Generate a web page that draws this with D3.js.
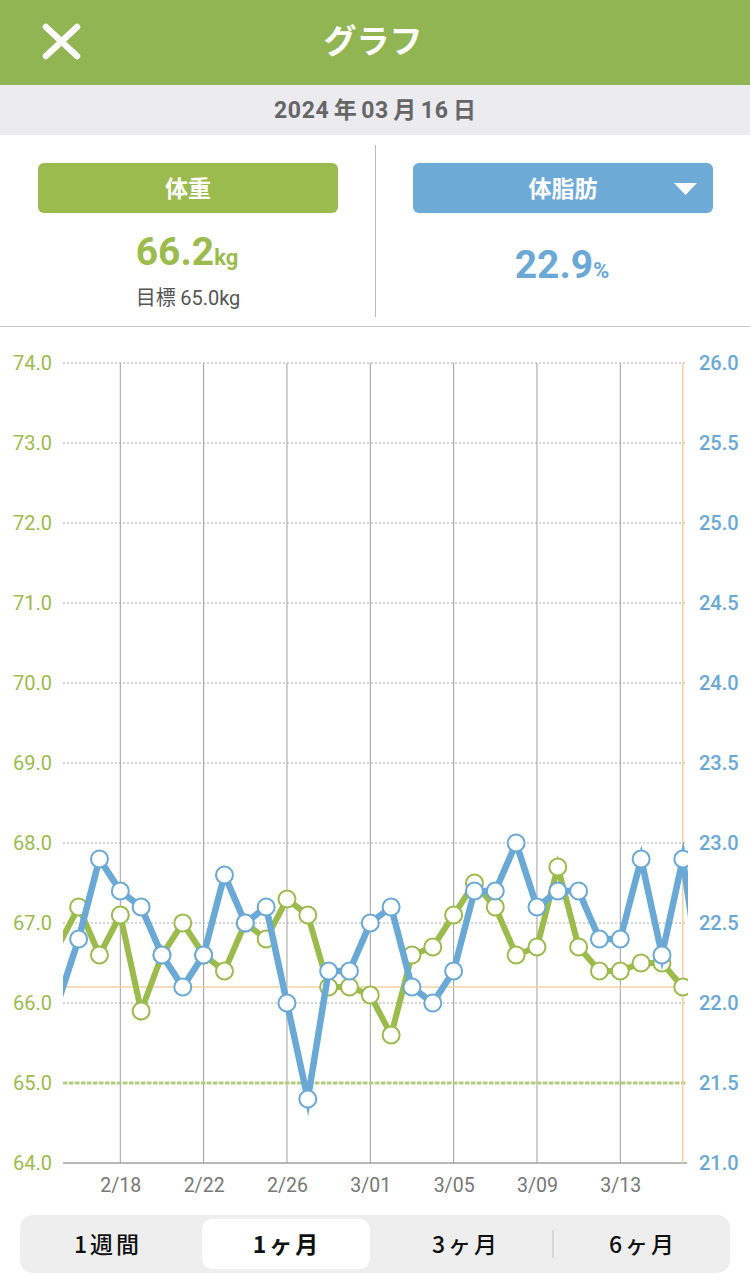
<!DOCTYPE html>
<html><head><meta charset="utf-8">
<script src="https://cdn.jsdelivr.net/npm/d3@7"></script>
<style>
html,body{margin:0;padding:0;background:#fff;}
svg{display:block;}
text{font-family:Roboto,"Noto Sans CJK JP",sans-serif;}
.jp{font-family:"Noto Sans CJK JP",Roboto,sans-serif;}
</style></head>
<body>
<svg id="c" width="750" height="1275"></svg>
<script>
// ---- data ----
const dates = ["2024-02-15","2024-02-16","2024-02-17","2024-02-18","2024-02-19","2024-02-20","2024-02-21","2024-02-22","2024-02-23","2024-02-24","2024-02-25","2024-02-26","2024-02-27","2024-02-28","2024-02-29","2024-03-01","2024-03-02","2024-03-03","2024-03-04","2024-03-05","2024-03-06","2024-03-07","2024-03-08","2024-03-09","2024-03-10","2024-03-11","2024-03-12","2024-03-13","2024-03-14","2024-03-15","2024-03-16","2024-03-17"];
const weight = [66.7,67.2,66.6,67.1,65.9,66.6,67.0,66.6,66.4,67.0,66.8,67.3,67.1,66.2,66.2,66.1,65.6,66.6,66.7,67.1,67.5,67.2,66.6,66.7,67.7,66.7,66.4,66.4,66.5,66.5,66.2,null];
const bodyFat = [22.0,22.4,22.9,22.7,22.6,22.3,22.1,22.3,22.8,22.5,22.6,22.0,21.4,22.2,22.2,22.5,22.6,22.1,22.0,22.2,22.7,22.7,23.0,22.6,22.7,22.7,22.4,22.4,22.9,22.3,22.9,22.0];
const xTickDates = ["2024-02-18","2024-02-22","2024-02-26","2024-03-01","2024-03-05","2024-03-09","2024-03-13"];
const weightTicks = [64,65,66,67,68,69,70,71,72,73,74];
const fatTicks = [21.0,21.5,22.0,22.5,23.0,23.5,24.0,24.5,25.0,25.5,26.0];
const goalWeight = 65.0;
const currentWeight = 66.2;
const currentFat = 22.9;
const selectedDate = "2024-03-16";
const dateTitleParts = ["2024","年","03","月","16","日"];
const periods = ["1週間","1ヶ月","3ヶ月","6ヶ月"];
const selectedPeriod = "1ヶ月";

// ---- colors ----
const GREEN = "#9bbb4c", BLUE = "#6aa9d5", ORANGE = "#f6cfa4";

const svg = d3.select("#c");
const P = d => new Date(d + "T00:00:00Z");

// ---- header ----
svg.append("rect").attr("x",0).attr("y",0).attr("width",750).attr("height",85).attr("fill","#90b552");
svg.append("path").attr("d","M46,27 L77,56 M77,27 L46,56").attr("stroke","#fff").attr("stroke-width",6.5).attr("stroke-linecap","round");
svg.append("text").attr("class","jp").attr("x",373).attr("y",53).attr("text-anchor","middle").attr("fill","#fff").attr("font-size",33).attr("font-weight",700).text("グラフ");

svg.append("rect").attr("x",0).attr("y",85).attr("width",750).attr("height",50).attr("fill","#ebebf0");
const dt = svg.append("text").attr("x",375).attr("y",118).attr("text-anchor","middle").attr("fill","#666").attr("font-size",23).attr("font-weight",700);
dateTitleParts.forEach((s,i) => {
  const isNum = /\d/.test(s);
  dt.append("tspan").attr("font-family", isNum ? "Roboto,sans-serif" : "'Noto Sans CJK JP',sans-serif")
    .attr("dx", i === 0 ? 0 : 4.5).attr("letter-spacing", isNum ? 0.6 : 0).text(s);
});

// ---- info panel ----
svg.append("rect").attr("x",38).attr("y",163).attr("width",300).attr("height",50).attr("rx",6).attr("fill","#9cbb4e");
svg.append("text").attr("class","jp").attr("x",188).attr("y",197).attr("text-anchor","middle").attr("fill","#fff").attr("font-size",23).attr("font-weight",700).text("体重");
svg.append("rect").attr("x",413).attr("y",163).attr("width",300).attr("height",50).attr("rx",6).attr("fill","#6eaad6");
svg.append("text").attr("class","jp").attr("x",563).attr("y",197).attr("text-anchor","middle").attr("fill","#fff").attr("font-size",23).attr("font-weight",700).text("体脂肪");
svg.append("path").attr("d","M674,183 L697,183 L685.5,195 Z").attr("fill","#fff");

const wt = svg.append("text").attr("x",187).attr("y",265).attr("text-anchor","middle").attr("fill",GREEN).attr("font-weight",700);
wt.append("tspan").attr("font-size",39).text(currentWeight.toFixed(1));
wt.append("tspan").attr("font-size",22).text("kg");
const gt = svg.append("text").attr("x",188).attr("y",305).attr("text-anchor","middle").attr("fill","#555").attr("font-size",20);
gt.append("tspan").attr("class","jp").text("目標 ");
gt.append("tspan").attr("font-family","Roboto,sans-serif").text(goalWeight.toFixed(1) + "kg");

const ft = svg.append("text").attr("x",562).attr("y",278).attr("text-anchor","middle").attr("fill",BLUE).attr("font-weight",700);
ft.append("tspan").attr("font-size",39).text(currentFat.toFixed(1));
ft.append("tspan").attr("font-size",22).text("%");

svg.append("line").attr("x1",375.5).attr("x2",375.5).attr("y1",145).attr("y2",317).attr("stroke","#bbb").attr("stroke-width",1);
svg.append("line").attr("x1",0).attr("x2",750).attr("y1",326.5).attr("y2",326.5).attr("stroke","#c8c8c8").attr("stroke-width",1);

// ---- chart ----
const L = 63, R = 687, T = 363, B = 1163;
const x = d3.scaleUtc().domain([P("2024-02-18"), P("2024-03-13")]).range([120.3, 620.3]);
const yW = d3.scaleLinear().domain([64, 74]).range([B, T]);
const yF = d3.scaleLinear().domain([21, 26]).range([B, T]);

svg.append("defs").append("clipPath").attr("id","clip").append("rect").attr("x",L).attr("y",T-30).attr("width",R-L+1).attr("height",B-T+60);

const g = svg.append("g");
g.selectAll(".hg").data(weightTicks.filter(d => d > 64 && d !== goalWeight)).join("line")
  .attr("x1",L).attr("x2",R).attr("y1",d => yW(d)).attr("y2",d => yW(d))
  .attr("stroke","#aaa").attr("stroke-width",1).attr("stroke-dasharray","2,2");
g.selectAll(".vg").data(xTickDates).join("line")
  .attr("x1",d => x(P(d))).attr("x2",d => x(P(d))).attr("y1",T).attr("y2",B)
  .attr("stroke","#9e9e9e").attr("stroke-width",1);
g.append("line").attr("x1",L).attr("x2",R).attr("y1",B).attr("y2",B).attr("stroke","#a0a0a0").attr("stroke-width",1.5);
g.append("line").attr("x1",L).attr("x2",R).attr("y1",yW(goalWeight)).attr("y2",yW(goalWeight))
  .attr("stroke","#b3cb7c").attr("stroke-width",3).attr("stroke-dasharray","4.5,1.5");
g.append("line").attr("x1",L).attr("x2",x(P(selectedDate))).attr("y1",yW(currentWeight)).attr("y2",yW(currentWeight))
  .attr("stroke",ORANGE).attr("stroke-width",1.5);
g.append("line").attr("x1",x(P(selectedDate))).attr("x2",x(P(selectedDate))).attr("y1",T).attr("y2",B)
  .attr("stroke",ORANGE).attr("stroke-width",1.5);

const axL = svg.append("g").attr("transform",`translate(${L},0)`)
  .call(d3.axisLeft(yW).tickValues(weightTicks).tickFormat(d3.format(".1f")).tickSize(0).tickPadding(11));
axL.select(".domain").remove();
axL.selectAll("text").attr("fill",GREEN).attr("font-size",20).attr("font-family","Roboto,sans-serif");
const axR = svg.append("g").attr("transform",`translate(${R},0)`)
  .call(d3.axisRight(yF).tickValues(fatTicks).tickFormat(d3.format(".1f")).tickSize(0).tickPadding(12));
axR.select(".domain").remove();
axR.selectAll("text").attr("fill",BLUE).attr("font-size",20).attr("font-weight",500).attr("font-family","Roboto,sans-serif");
const axB = svg.append("g").attr("transform",`translate(0,${B})`)
  .call(d3.axisBottom(x).tickValues(xTickDates.map(P)).tickFormat(d3.utcFormat("%-m/%d")).tickSize(0).tickPadding(15));
axB.select(".domain").remove();
axB.selectAll("text").attr("fill","#777").attr("font-size",19.5).attr("font-family","Roboto,sans-serif");

// series
const plot = svg.append("g").attr("clip-path","url(#clip)");
const wData = dates.map((d,i) => ({d:P(d), v:weight[i]}));
const fData = dates.map((d,i) => ({d:P(d), v:bodyFat[i]}));
const visible = p => p.v != null && x(p.d) >= L && x(p.d) <= R;

const lineW = d3.line().defined(p => p.v != null).x(p => x(p.d)).y(p => yW(p.v));
const lineF = d3.line().defined(p => p.v != null).x(p => x(p.d)).y(p => yF(p.v));

plot.append("path").datum(wData).attr("d",lineW).attr("fill","none").attr("stroke",GREEN)
  .attr("stroke-width",6).attr("stroke-linejoin","miter").attr("stroke-miterlimit",10);
plot.selectAll(".wc").data(wData.filter(visible)).join("circle")
  .attr("cx",p => x(p.d)).attr("cy",p => yW(p.v)).attr("r",8.5)
  .attr("fill","#fff").attr("stroke",GREEN).attr("stroke-width",2);

plot.append("path").datum(fData).attr("d",lineF).attr("fill","none").attr("stroke",BLUE)
  .attr("stroke-width",6.5).attr("stroke-linejoin","miter").attr("stroke-miterlimit",10);
plot.selectAll(".fc").data(fData.filter(visible)).join("circle")
  .attr("cx",p => x(p.d)).attr("cy",p => yF(p.v)).attr("r",8.5)
  .attr("fill","#fff").attr("stroke",BLUE).attr("stroke-width",2);

// ---- period selector ----
svg.append("rect").attr("x",20).attr("y",1215).attr("width",710).attr("height",58).attr("rx",13).attr("fill","#eeeeef");
const segX = [108, 287, 466, 643];
const selIdx = periods.indexOf(selectedPeriod);
svg.append("rect").attr("x",202).attr("y",1219).attr("width",168).attr("height",50).attr("rx",10).attr("fill","#fff");
svg.append("line").attr("x1",553).attr("x2",553).attr("y1",1230).attr("y2",1258).attr("stroke","#d0d0d0").attr("stroke-width",1.5);
svg.selectAll(".seg").data(periods).join("text").attr("class","jp")
  .attr("x",(d,i) => segX[i]).attr("y",1253).attr("text-anchor","middle")
  .attr("font-size",23).attr("letter-spacing",3).attr("font-weight",(d,i) => i === selIdx ? 600 : 500).attr("fill","#111")
  .text(d => d);
</script>
</body></html>
